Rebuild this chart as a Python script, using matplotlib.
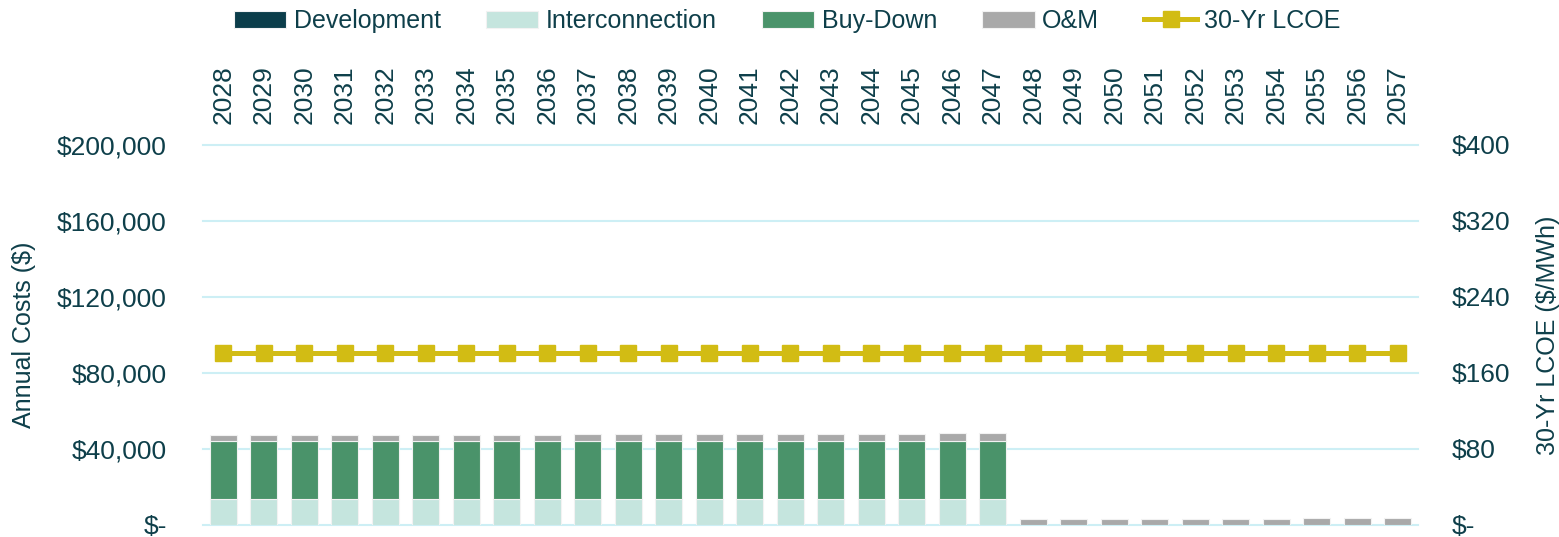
import numpy as np
import matplotlib.pyplot as plt
from matplotlib.ticker import FuncFormatter

# Values
years = list(range(2028, 2058))
development = [0] * 30
interconnection = [13500] * 20 + [0] * 10
buy_down = [30900] * 20 + [0] * 10
om = [2800, 2850, 2900, 2950, 3000, 3050, 3100, 3150, 3200, 3250,
      3300, 3350, 3400, 3450, 3500, 3550, 3600, 3700, 3800, 3900,
      3100, 3150, 3200, 3250, 3300, 3350, 3400, 3450, 3550, 3650]
lcoe = [181] * 30

txt = "#0E3F4A"
c_dev = "#0B3D4A"
c_int = "#C5E5DE"
c_buy = "#4A936A"
c_om = "#A9A9A9"
c_lcoe = "#D2BC14"
c_grid = "#CDEFF5"

plt.rcParams['font.family'] = ['Liberation Sans', 'DejaVu Sans']

fig = plt.figure(figsize=(15.59, 5.37), dpi=100)
ax = fig.add_axes([203 / 1559, 12 / 537, 1215 / 1559, 380 / 537])
ax2 = ax.twinx()

x = np.arange(len(years))
w = 0.67
ec = dict(edgecolor="#F2F2F2", linewidth=0.8)
bottom = np.zeros(len(years))
b1 = ax.bar(x, development, w, bottom=bottom, color=c_dev, label="Development", **ec)
bottom += development
b2 = ax.bar(x, interconnection, w, bottom=bottom, color=c_int, label="Interconnection", **ec)
bottom += interconnection
b3 = ax.bar(x, buy_down, w, bottom=bottom, color=c_buy, label="Buy-Down", **ec)
bottom += buy_down
b4 = ax.bar(x, om, w, bottom=bottom, color=c_om, label="O&M", **ec)

l1, = ax2.plot(x, lcoe, color=c_lcoe, lw=3.6, marker="s", markersize=11,
               label="30-Yr LCOE")

ax.set_xlim(-0.5, len(years) - 0.5)
ax.set_ylim(0, 200000)
yt = np.arange(0, 200001, 40000)
ax.set_yticks(yt)
ax2.set_ylim(0, 400)
ax2.set_yticks(np.arange(0, 401, 80))

ax.yaxis.set_major_formatter(FuncFormatter(lambda v, p: "$-" if v == 0 else f"${v:,.0f}"))
ax2.yaxis.set_major_formatter(FuncFormatter(lambda v, p: "$-" if v == 0 else f"${v:,.0f}"))

# gridlines (drawn unclipped so the top and bottom ones show fully)
for v in yt:
    ax.axhline(v, color=c_grid, lw=1.5, zorder=0, clip_on=False)
for a in (ax, ax2):
    for s in a.spines.values():
        s.set_visible(False)

ax.xaxis.tick_top()
ax.set_xticks(x)
ax.set_xticklabels([str(y) for y in years], rotation=90, fontsize=19, color=txt)
ax.tick_params(axis="x", length=0, pad=15)
ax.tick_params(axis="y", length=0, labelsize=19, labelcolor=txt, pad=26)
ax2.tick_params(axis="y", length=0, labelsize=19, labelcolor=txt, pad=24)

ax.set_ylabel("Annual Costs ($)", fontsize=18, color=txt, labelpad=15)
ax2.set_ylabel("30-Yr LCOE ($/MWh)", fontsize=18, color=txt, labelpad=19)

fig.legend(handles=[b1, b2, b3, b4, l1], loc="upper center",
           bbox_to_anchor=(0.505, 1.025), ncol=5, frameon=False,
           fontsize=18, labelcolor=txt, handlelength=2.1, handleheight=0.7,
           columnspacing=1.8, handletextpad=0.3)

fig.savefig("out.png", dpi=100)
